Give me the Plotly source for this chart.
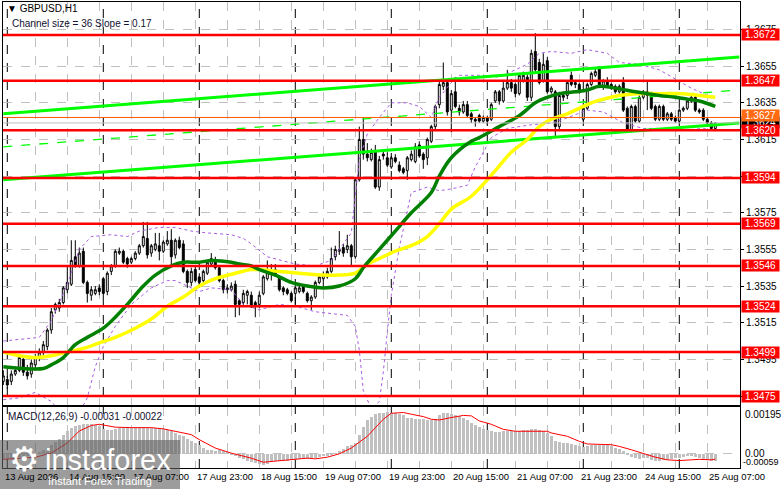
import plotly.graph_objects as go

# GBPUSD H1, bar 0 = 13 Aug 23:00, last bar = 25 Aug 09:00 (weekend skipped)
opens = [1.3483, 1.3484, 1.3483, 1.3487, 1.3489, 1.3495, 1.3488, 1.3487, 1.3492, 1.3496,
         1.3499, 1.3502, 1.3511, 1.3522, 1.3523, 1.3526, 1.3533, 1.3536, 1.3551, 1.3546,
         1.3554, 1.3537, 1.3530, 1.3531, 1.3534, 1.3539, 1.3532, 1.3543, 1.3546, 1.3553,
         1.3554, 1.3550, 1.3548, 1.3550, 1.3553, 1.3557, 1.3561, 1.3553, 1.3555, 1.3557,
         1.3554, 1.3558, 1.3560, 1.3552, 1.3560, 1.3558, 1.3543, 1.3537, 1.3544, 1.3540,
         1.3538, 1.3542, 1.3547, 1.3549, 1.3545, 1.3538, 1.3533, 1.3533, 1.3536, 1.3527,
         1.3526, 1.3530, 1.3530, 1.3526, 1.3525, 1.3531, 1.3539, 1.3542, 1.3544, 1.3540,
         1.3534, 1.3533, 1.3531, 1.3531, 1.3532, 1.3535, 1.3531, 1.3527, 1.3529, 1.3537,
         1.3539, 1.3540, 1.3543, 1.3551, 1.3554, 1.3556, 1.3555, 1.3557, 1.3551, 1.3593,
         1.3615, 1.3607, 1.3604, 1.3609, 1.3589, 1.3607, 1.3605, 1.3600, 1.3605, 1.3601,
         1.3599, 1.3598, 1.3604, 1.3603, 1.3612, 1.3607, 1.3605, 1.3614, 1.3622, 1.3634,
         1.3644, 1.3646, 1.3631, 1.3641, 1.3632, 1.3630, 1.3634, 1.3629, 1.3626, 1.3628,
         1.3625, 1.3627, 1.3626, 1.3636, 1.3641, 1.3636, 1.3643, 1.3646, 1.3645, 1.3640,
         1.3647, 1.3649, 1.3638, 1.3663, 1.3657, 1.3647, 1.3658, 1.3641, 1.3641, 1.3622,
         1.3639, 1.3639, 1.3650, 1.3646, 1.3645, 1.3626, 1.3632, 1.3645, 1.3650, 1.3654,
         1.3644, 1.3647, 1.3645, 1.3644, 1.3641, 1.3646, 1.3632, 1.3620, 1.3633, 1.3625,
         1.3638, 1.3641, 1.3640, 1.3633, 1.3626, 1.3633, 1.3626, 1.3629, 1.3627, 1.3625,
         1.3631, 1.3632, 1.3636, 1.3638, 1.3631, 1.3631, 1.3626, 1.3624, 1.3621]
highs = [1.3489, 1.3486, 1.3489, 1.3490, 1.3498, 1.3497, 1.3492, 1.3495, 1.3498, 1.3501,
         1.3505, 1.3512, 1.3523, 1.3526, 1.3528, 1.3535, 1.3546, 1.3560, 1.3560, 1.3556,
         1.3556, 1.3538, 1.3535, 1.3535, 1.3536, 1.3540, 1.3543, 1.3547, 1.3555, 1.3556,
         1.3555, 1.3551, 1.3551, 1.3554, 1.3558, 1.3570, 1.3570, 1.3558, 1.3564, 1.3564,
         1.3560, 1.3565, 1.3566, 1.3561, 1.3562, 1.3560, 1.3544, 1.3545, 1.3546, 1.3542,
         1.3544, 1.3549, 1.3553, 1.3551, 1.3546, 1.3539, 1.3536, 1.3537, 1.3538, 1.3528,
         1.3533, 1.3533, 1.3532, 1.3527, 1.3532, 1.3541, 1.3549, 1.3547, 1.3547, 1.3541,
         1.3535, 1.3534, 1.3532, 1.3535, 1.3535, 1.3536, 1.3532, 1.3530, 1.3538, 1.3541,
         1.3543, 1.3545, 1.3556, 1.3557, 1.3565, 1.3558, 1.3563, 1.3558, 1.3594, 1.3622,
         1.3627, 1.3613, 1.3610, 1.3612, 1.3606, 1.3609, 1.3608, 1.3606, 1.3607, 1.3603,
         1.3600, 1.3606, 1.3609, 1.3613, 1.3614, 1.3608, 1.3616, 1.3623, 1.3634, 1.3648,
         1.3657, 1.3648, 1.3642, 1.3649, 1.3634, 1.3636, 1.3636, 1.3630, 1.3627, 1.3629,
         1.3628, 1.3628, 1.3635, 1.3642, 1.3642, 1.3647, 1.3653, 1.3648, 1.3646, 1.3651,
         1.3652, 1.3651, 1.3664, 1.3673, 1.3659, 1.3662, 1.3660, 1.3644, 1.3642, 1.3641,
         1.3641, 1.3647, 1.3652, 1.3647, 1.3646, 1.3633, 1.3646, 1.3652, 1.3654, 1.3655,
         1.3648, 1.3649, 1.3646, 1.3645, 1.3645, 1.3649, 1.3633, 1.3634, 1.3634, 1.3639,
         1.3642, 1.3647, 1.3641, 1.3634, 1.3634, 1.3634, 1.3630, 1.3630, 1.3628, 1.3632,
         1.3633, 1.3637, 1.3640, 1.3639, 1.3632, 1.3632, 1.3627, 1.3625, 1.3624]
lows = [1.3481, 1.3479, 1.3481, 1.3486, 1.3488, 1.3486, 1.3484, 1.3485, 1.3490, 1.3494,
        1.3497, 1.3500, 1.3509, 1.3520, 1.3521, 1.3525, 1.3531, 1.3535, 1.3545, 1.3545,
        1.3536, 1.3526, 1.3527, 1.3530, 1.3530, 1.3529, 1.3530, 1.3541, 1.3545, 1.3552,
        1.3547, 1.3545, 1.3547, 1.3549, 1.3552, 1.3556, 1.3550, 1.3551, 1.3554, 1.3549,
        1.3553, 1.3557, 1.3547, 1.3550, 1.3555, 1.3542, 1.3534, 1.3535, 1.3537, 1.3535,
        1.3537, 1.3541, 1.3546, 1.3544, 1.3537, 1.3531, 1.3531, 1.3532, 1.3518, 1.3519,
        1.3524, 1.3525, 1.3523, 1.3518, 1.3523, 1.3530, 1.3538, 1.3538, 1.3540, 1.3532,
        1.3530, 1.3530, 1.3526, 1.3525, 1.3531, 1.3531, 1.3526, 1.3522, 1.3528, 1.3536,
        1.3534, 1.3539, 1.3542, 1.3549, 1.3552, 1.3551, 1.3553, 1.3546, 1.3550, 1.3592,
        1.3604, 1.3603, 1.3603, 1.3588, 1.3587, 1.3604, 1.3600, 1.3599, 1.3602, 1.3597,
        1.3596, 1.3593, 1.3603, 1.3602, 1.3605, 1.3599, 1.3601, 1.3613, 1.3620, 1.3632,
        1.3642, 1.3628, 1.3619, 1.3632, 1.3628, 1.3629, 1.3627, 1.3624, 1.3622, 1.3624,
        1.3624, 1.3623, 1.3625, 1.3635, 1.3634, 1.3635, 1.3642, 1.3641, 1.3638, 1.3639,
        1.3646, 1.3636, 1.3636, 1.3651, 1.3645, 1.3646, 1.3640, 1.3640, 1.3616, 1.3620,
        1.3636, 1.3637, 1.3644, 1.3643, 1.3640, 1.3625, 1.3631, 1.3644, 1.3649, 1.3643,
        1.3642, 1.3643, 1.3642, 1.3640, 1.3640, 1.3630, 1.3619, 1.3619, 1.3624, 1.3624,
        1.3637, 1.3631, 1.3631, 1.3625, 1.3625, 1.3625, 1.3625, 1.3625, 1.3624, 1.3624,
        1.3630, 1.3631, 1.3635, 1.3630, 1.3629, 1.3625, 1.3622, 1.3620, 1.3620]
closes = [1.3486, 1.3481, 1.3487, 1.3489, 1.3496, 1.3488, 1.3486, 1.3493, 1.3496, 1.3499,
          1.3503, 1.3511, 1.3521, 1.3525, 1.3526, 1.3534, 1.3537, 1.3549, 1.3546, 1.3553,
          1.3537, 1.3531, 1.3533, 1.3533, 1.3532, 1.3531, 1.3542, 1.3546, 1.3554, 1.3554,
          1.3548, 1.3547, 1.3550, 1.3553, 1.3557, 1.3562, 1.3552, 1.3557, 1.3558, 1.3554,
          1.3559, 1.3560, 1.3551, 1.3560, 1.3556, 1.3543, 1.3537, 1.3543, 1.3538, 1.3537,
          1.3543, 1.3548, 1.3550, 1.3545, 1.3538, 1.3533, 1.3534, 1.3535, 1.3525, 1.3525,
          1.3531, 1.3532, 1.3524, 1.3524, 1.3530, 1.3540, 1.3544, 1.3544, 1.3541, 1.3533,
          1.3532, 1.3531, 1.3527, 1.3534, 1.3534, 1.3532, 1.3527, 1.3529, 1.3537, 1.3540,
          1.3541, 1.3543, 1.3550, 1.3555, 1.3555, 1.3553, 1.3557, 1.3551, 1.3593, 1.3615,
          1.3607, 1.3605, 1.3608, 1.3589, 1.3604, 1.3606, 1.3601, 1.3605, 1.3603, 1.3598,
          1.3597, 1.3605, 1.3607, 1.3611, 1.3606, 1.3604, 1.3615, 1.3622, 1.3633, 1.3645,
          1.3646, 1.3630, 1.3640, 1.3633, 1.3630, 1.3634, 1.3628, 1.3626, 1.3625, 1.3625,
          1.3627, 1.3625, 1.3634, 1.3641, 1.3636, 1.3643, 1.3646, 1.3643, 1.3640, 1.3650,
          1.3650, 1.3638, 1.3662, 1.3653, 1.3646, 1.3656, 1.3641, 1.3643, 1.3622, 1.3639,
          1.3638, 1.3646, 1.3645, 1.3645, 1.3641, 1.3632, 1.3645, 1.3651, 1.3652, 1.3644,
          1.3647, 1.3644, 1.3643, 1.3641, 1.3644, 1.3631, 1.3620, 1.3633, 1.3625, 1.3638,
          1.3641, 1.3639, 1.3632, 1.3626, 1.3633, 1.3626, 1.3629, 1.3626, 1.3625, 1.3631,
          1.3632, 1.3636, 1.3638, 1.3631, 1.3630, 1.3626, 1.3624, 1.3621, 1.3624]
bars = list(range(len(closes)))

# moving averages at sample bars
ma_green_x = [0, 10, 12, 15, 18, 21, 25, 28, 31, 35, 38, 42, 45, 49, 52, 57, 59, 62, 64, 68,
              72, 76, 80, 84, 88, 90, 94, 98, 102, 107, 109, 112, 117, 119, 124, 129, 133,
              136, 139, 143, 146, 149, 153, 158, 161, 164, 168, 171, 174, 178]
ma_green = [1.3491, 1.3490, 1.3492, 1.3496, 1.3503, 1.3507, 1.3512, 1.3518, 1.3525, 1.3535,
            1.3541, 1.3546, 1.3548, 1.3548, 1.3549, 1.3548, 1.3547, 1.3546, 1.3544, 1.3541,
            1.3537, 1.3535, 1.3534, 1.3535, 1.3539, 1.3545, 1.3555, 1.3565, 1.3575, 1.3586,
            1.3595, 1.3605, 1.3614, 1.3616, 1.3622, 1.3628, 1.3635, 1.3638, 1.3640, 1.3641,
            1.3642, 1.3644, 1.3643, 1.3641, 1.3640, 1.3639, 1.3638, 1.3637, 1.3636, 1.3633]
ma_yellow_x = [0, 4, 8, 12, 16, 20, 24, 28, 33, 37, 41, 45, 49, 53, 58, 62, 64, 69, 74, 80,
               84, 88, 91, 94, 98, 103, 106, 109, 112, 117, 123, 127, 131, 134, 137, 141,
               144, 147, 150, 154, 158, 164, 170, 174, 178]
ma_yellow = [1.3499, 1.3497, 1.3496, 1.3497, 1.3499, 1.3501, 1.3504, 1.3507, 1.3512, 1.3517,
             1.3524, 1.3529, 1.3535, 1.3539, 1.3542, 1.3544, 1.3544, 1.3543, 1.3542, 1.3541,
             1.3541, 1.3542, 1.3547, 1.3550, 1.3554, 1.3558, 1.3562, 1.3569, 1.3577, 1.3584,
             1.3598, 1.3608, 1.3615, 1.3622, 1.3626, 1.3629, 1.3632, 1.3635, 1.3637, 1.3639,
             1.3640, 1.3640, 1.3640, 1.3639, 1.3638]

# bollinger-style envelope (purple dots)
bb_up_x = [0, 4, 9, 12, 16, 19, 22, 27, 31, 34, 39, 43, 47, 51, 57, 60, 62, 66, 73, 78, 82,
           87, 89, 91, 94, 97, 101, 104, 107, 109, 112, 114, 119, 124, 131, 134, 137, 142,
           146, 151, 154, 159, 164, 168, 172, 175, 178]
bb_up = [1.3505, 1.3506, 1.3507, 1.3516, 1.3536, 1.3555, 1.3562, 1.3563, 1.3562, 1.3565,
         1.3567, 1.3567, 1.3565, 1.3564, 1.3563, 1.3561, 1.3558, 1.3551, 1.3547, 1.3546,
         1.3549, 1.3564, 1.3604, 1.3618, 1.3627, 1.3635, 1.3635, 1.3633, 1.3627, 1.3638,
         1.3646, 1.3650, 1.3650, 1.3649, 1.3656, 1.3662, 1.3663, 1.3662, 1.3664, 1.3662,
         1.3657, 1.3656, 1.3653, 1.3648, 1.3643, 1.3640, 1.3637]
bb_lo_x = [0, 4, 8, 12, 14, 16, 18, 20, 21, 23, 25, 28, 32, 37, 41, 43, 46, 49, 52, 57, 60,
           64, 69, 73, 78, 82, 86, 88, 89, 90, 92, 94, 95, 96, 97, 99, 101, 102, 106, 109,
           112, 116, 118, 122, 126, 132, 137, 140, 146, 150, 155, 160, 165, 170, 175, 178]
bb_lo = [1.3473, 1.3474, 1.3477, 1.3472, 1.3467, 1.3463, 1.3464, 1.3470, 1.3474, 1.3491,
         1.3502, 1.3513, 1.3525, 1.3534, 1.3538, 1.3538, 1.3535, 1.3532, 1.3534, 1.3533,
         1.3525, 1.3522, 1.3525, 1.3524, 1.3521, 1.3520, 1.3519, 1.3513, 1.3500, 1.3478,
         1.3468, 1.3472, 1.3488, 1.3510, 1.3530, 1.3556, 1.3577, 1.3586, 1.3589, 1.3587,
         1.3588, 1.3590, 1.3600, 1.3616, 1.3621, 1.3623, 1.3624, 1.3626, 1.3631, 1.3630,
         1.3624, 1.3621, 1.3621, 1.3620, 1.3621, 1.3620]

# price channel (upper / middle / lower)
chan_x = [0, 184]
chan_upper = [1.3629, 1.3660]
chan_mid = [1.3611, 1.3642]
chan_lower = [1.3593, 1.3624]

levels = [1.3672, 1.3647, 1.3620, 1.3594, 1.3569, 1.3546, 1.3524, 1.3499, 1.3475]
orange_level = 1.3627
bid = 1.3624

price_ticks = [1.3475, 1.3495, 1.3515, 1.3535, 1.3555, 1.3575, 1.3595, 1.3615, 1.3635,
               1.3655, 1.3675]
time_ticks = [0, 16, 32, 48, 64, 80, 96, 112, 128, 144, 160, 176]
time_labels = ["13 Aug 2026", "14 Aug 15:00", "17 Aug 07:00", "17 Aug 23:00", "18 Aug 15:00",
               "19 Aug 07:00", "19 Aug 23:00", "20 Aug 15:00", "21 Aug 07:00", "21 Aug 23:00",
               "24 Aug 15:00", "25 Aug 07:00"]
day_breaks = [1, 25, 49, 73, 97, 121, 145, 169]

# MACD(12,26,9): histogram = main line, red = signal
macd_hist = [-0.00020, -0.00022, -0.00020, -0.00018, -0.00012, -0.00010, -0.00010, -0.00006, 0.00000, 0.00006,
             0.00014, 0.00026, 0.00038, 0.00048, 0.00060, 0.00080, 0.00094, 0.00109, 0.00114, 0.00118,
             0.00123, 0.00123, 0.00123, 0.00118, 0.00114, 0.00104, 0.00099, 0.00100, 0.00104, 0.00108,
             0.00109, 0.00108, 0.00107, 0.00108, 0.00110, 0.00112, 0.00109, 0.00107, 0.00107, 0.00106,
             0.00104, 0.00099, 0.00094, 0.00087, 0.00080, 0.00073, 0.00060, 0.00052, 0.00045, 0.00038,
             0.00024, 0.00016, 0.00014, 0.00012, 0.00014, 0.00010, 0.00004, -0.00004, -0.00011, -0.00018,
             -0.00023, -0.00028, -0.00032, -0.00039, -0.00042, -0.00045, -0.00042, -0.00036, -0.00030, -0.00028,
             -0.00030, -0.00028, -0.00025, -0.00025, -0.00023, -0.00020, -0.00020, -0.00018, -0.00016, -0.00014,
             -0.00011, -0.00008, -0.00004, 0.00002, 0.00010, 0.00022, 0.00031, 0.00038, 0.00045, 0.00080,
             0.00110, 0.00140, 0.00155, 0.00165, 0.00170, 0.00172, 0.00174, 0.00172, 0.00170, 0.00165,
             0.00160, 0.00151, 0.00151, 0.00147, 0.00144, 0.00144, 0.00141, 0.00141, 0.00147, 0.00160,
             0.00169, 0.00169, 0.00165, 0.00160, 0.00158, 0.00151, 0.00141, 0.00130, 0.00118, 0.00113,
             0.00104, 0.00099, 0.00094, 0.00091, 0.00091, 0.00094, 0.00094, 0.00094, 0.00094, 0.00094,
             0.00099, 0.00099, 0.00102, 0.00102, 0.00099, 0.00094, 0.00087, 0.00073, 0.00052, 0.00048,
             0.00045, 0.00045, 0.00042, 0.00038, 0.00031, 0.00027, 0.00031, 0.00037, 0.00038, 0.00038,
             0.00038, 0.00035, 0.00031, 0.00024, 0.00020, 0.00010, -0.00004, -0.00014, -0.00018, -0.00023,
             -0.00018, -0.00018, -0.00025, -0.00028, -0.00028, -0.00025, -0.00025, -0.00023, -0.00018, -0.00018,
             -0.00014, -0.00011, -0.00011, -0.00014, -0.00018, -0.00023, -0.00025, -0.00030, -0.00031]
sig_x = [0, 8, 12, 16, 19, 22, 24, 28, 32, 37, 40, 43, 47, 49, 53, 57, 62, 65, 68, 72, 76, 78,
         81, 84, 87, 91, 95, 97, 100, 102, 105, 107, 109, 112, 115, 117, 119, 122, 125, 128,
         136, 137, 141, 144, 146, 152, 154, 157, 160, 163, 166, 169, 172, 174, 177, 178]
sig = [-0.00023, -0.00014, 0.00003, 0.00045, 0.00095, 0.00118, 0.00123, 0.00111, 0.00109, 0.00109,
       0.00104, 0.00095, 0.00080, 0.00059, 0.00024, 0.00003, -0.00018, -0.00035, -0.00030, -0.00023,
       -0.00018, -0.00021, -0.00014, 0.00000, 0.00024, 0.00073, 0.00144, 0.00169, 0.00172, 0.00165,
       0.00155, 0.00144, 0.00141, 0.00151, 0.00160, 0.00158, 0.00137, 0.00123, 0.00102, 0.00094,
       0.00094, 0.00087, 0.00073, 0.00052, 0.00041, 0.00038, 0.00031, 0.00017, 0.00000, -0.00014,
       -0.00025, -0.00028, -0.00025, -0.00023, -0.00025, -0.00022]

FONT = "Liberation Sans, Arial"
GRID = "#c0c0c0"


# px -> paper helpers (plot area is x 3..740, y 2..468 of the 781x489 page)
def px(x):
    return (x - 3) / 737.0


def py(y):
    return (468 - y) / 466.0


fig = go.Figure()

fig.add_trace(go.Candlestick(
    x=bars, open=opens, high=highs, low=lows, close=closes,
    increasing=dict(line=dict(color="black", width=1), fillcolor="white"),
    decreasing=dict(line=dict(color="black", width=1), fillcolor="black"),
    whiskerwidth=0, showlegend=False, xaxis="x", yaxis="y"))

# envelope
fig.add_trace(go.Scatter(x=bb_up_x, y=bb_up, mode="lines", line=dict(color="#a95ee0", width=1, dash="dot"),
                         showlegend=False))
fig.add_trace(go.Scatter(x=bb_lo_x, y=bb_lo, mode="lines", line=dict(color="#a95ee0", width=1, dash="dot"),
                         showlegend=False))

# channel
fig.add_trace(go.Scatter(x=chan_x, y=chan_upper, mode="lines", line=dict(color="#00ff00", width=3),
                         showlegend=False))
fig.add_trace(go.Scatter(x=chan_x, y=chan_mid, mode="lines", line=dict(color="#00ff00", width=1.3, dash="dash"),
                         showlegend=False))
fig.add_trace(go.Scatter(x=chan_x, y=chan_lower, mode="lines", line=dict(color="#00ff00", width=3),
                         showlegend=False))

# MAs
fig.add_trace(go.Scatter(x=ma_yellow_x, y=ma_yellow, mode="lines", line=dict(color="#ffff00", width=3.5, shape="spline"),
                         showlegend=False))
fig.add_trace(go.Scatter(x=ma_green_x, y=ma_green, mode="lines", line=dict(color="#008000", width=3.5, shape="spline"),
                         showlegend=False))

# MACD panel
fig.add_trace(go.Bar(x=bars, y=macd_hist, marker=dict(color="#c0c0c0", line=dict(width=0)), width=0.6,
                     showlegend=False, xaxis="x2", yaxis="y2"))
fig.add_trace(go.Scatter(x=sig_x, y=sig, mode="lines", line=dict(color="#ff0000", width=1),
                         showlegend=False, xaxis="x2", yaxis="y2"))

shapes = []
# day separators
for d in day_breaks:
    shapes.append(dict(type="line", xref="x", yref="paper", x0=d, x1=d, y0=0, y1=1,
                       line=dict(color="black", width=1, dash="dash"), layer="below"))
# bid / orange lines
shapes.append(dict(type="line", xref="x domain", yref="y", x0=0, x1=1, y0=bid, y1=bid,
                   line=dict(color="#c0c0c0", width=1)))
shapes.append(dict(type="line", xref="x domain", yref="y", x0=0, x1=1, y0=orange_level, y1=orange_level,
                   line=dict(color="#ff5a00", width=1)))
# red levels
for lv in levels:
    shapes.append(dict(type="line", xref="x domain", yref="y", x0=0, x1=1, y0=lv, y1=lv,
                       line=dict(color="#ff0000", width=2.5)))
# logo box
shapes.append(dict(type="rect", xref="paper", yref="paper", x0=px(0), x1=px(180), y0=py(489), y1=py(440),
                   fillcolor="rgba(95,95,95,0.62)", line=dict(width=0), layer="above"))

ann = []
ann.append(dict(text="▼ GBPUSD,H1", x=px(5), y=py(9), xref="paper", yref="paper", xanchor="left",
                yanchor="middle", showarrow=False, font=dict(size=10, color="black")))
ann.append(dict(text="Channel size = 36 Slope = 0.17", x=px(10), y=py(23), xref="paper", yref="paper",
                xanchor="left", yanchor="middle", showarrow=False, font=dict(size=10, color="#101030")))
ann.append(dict(text="MACD(12,26,9) -0.00031 -0.00022", x=px(6), y=py(416), xref="paper", yref="paper",
                xanchor="left", yanchor="middle", showarrow=False, font=dict(size=10, color="#101030")))

# price boxes on the right
ann.append(dict(text=f"{bid:.4f}", x=1, xref="paper", y=bid, yref="y", xanchor="left", xshift=1,
                showarrow=False, bgcolor="black", font=dict(size=10, color="white"), borderpad=0, width=37))
ann.append(dict(text=f"{orange_level:.4f}", x=1, xref="paper", y=orange_level, yshift=2, yref="y", xanchor="left",
                xshift=1, showarrow=False, bgcolor="#ff6a10", font=dict(size=10, color="white"), borderpad=0, width=37))
for lv in levels:
    ann.append(dict(text=f"{lv:.4f}", x=1, xref="paper", y=lv, yref="y", xanchor="left", xshift=1,
                    showarrow=False, bgcolor="#ff0000", font=dict(size=10, color="white"), borderpad=0,
                    width=37))

# MACD scale
ann.append(dict(text="0.00195", x=1, xref="paper", y=0.00195, yref="y2", xanchor="left", yanchor="top", xshift=3,
                showarrow=False, font=dict(size=10)))
ann.append(dict(text="0.00", x=1, xref="paper", y=0, yref="y2", xanchor="left", yanchor="middle", xshift=3,
                showarrow=False, font=dict(size=10)))
ann.append(dict(text="-0.00059", x=1, xref="paper", y=-0.00059, yref="y2", xanchor="left", yanchor="bottom",
                xshift=1, yshift=-1, showarrow=False, font=dict(size=9)))

# time labels
for t, lab in zip(time_ticks, time_labels):
    ann.append(dict(text=lab, x=t, xref="x2", y=0, yref="paper", xanchor="left", yanchor="top", yshift=-1,
                    showarrow=False, font=dict(size=9.5)))

# watermark
ann.append(dict(text="⚙", x=px(24), y=py(459), xref="paper", yref="paper", xanchor="center", yanchor="middle",
                showarrow=False, font=dict(size=34, color="white", family="DejaVu Sans")))
ann.append(dict(text="instaforex", x=px(43), y=py(460), xref="paper", yref="paper", xanchor="left",
                yanchor="middle", showarrow=False, font=dict(size=29, color="white")))
ann.append(dict(text="Instant Forex Trading", x=px(46), y=py(481), xref="paper", yref="paper", xanchor="left",
                yanchor="middle", showarrow=False, font=dict(size=11, color="white")))

xa = dict(range=[-0.075, 184.175], tickmode="linear", tick0=0, dtick=8, showticklabels=False,
          showgrid=True, gridcolor=GRID, griddash="dash", gridwidth=1, zeroline=False,
          showline=True, mirror=True, linecolor="black", linewidth=1, fixedrange=True)

fig.update_layout(
    width=781, height=489,
    margin=dict(l=3, r=41, t=2, b=21),
    paper_bgcolor="white", plot_bgcolor="white",
    font=dict(family=FONT, size=10, color="black"),
    showlegend=False,
    bargap=0,
    xaxis=dict(xa, anchor="y", rangeslider=dict(visible=False)),
    xaxis2=dict(xa, anchor="y2", matches="x"),
    yaxis=dict(domain=[0.1352, 1], range=[1.34701, 1.36900], side="right", tickmode="array",
               tickvals=price_ticks, ticktext=[f"{v:.4f}" for v in price_ticks],
               ticks="outside", ticklen=3, tickcolor="black", showgrid=True, gridcolor=GRID,
               griddash="dash", zeroline=False, showline=True, mirror=True, linecolor="black",
               linewidth=1, tickfont=dict(size=10)),
    yaxis2=dict(domain=[0, 0.1309], range=[-0.00059, 0.00195], side="right", tickmode="array",
                tickvals=[0], showticklabels=False, showgrid=True, gridcolor=GRID, griddash="dash",
                zeroline=False, showline=True, mirror=True, linecolor="black", linewidth=1),
    shapes=shapes,
    annotations=ann,
)

# page has a default 8px body margin; drop it so the chart sits at 0,0
fig.write_html("out.html", config={"displayModeBar": False},
               post_script="document.body.style.margin='0';")
